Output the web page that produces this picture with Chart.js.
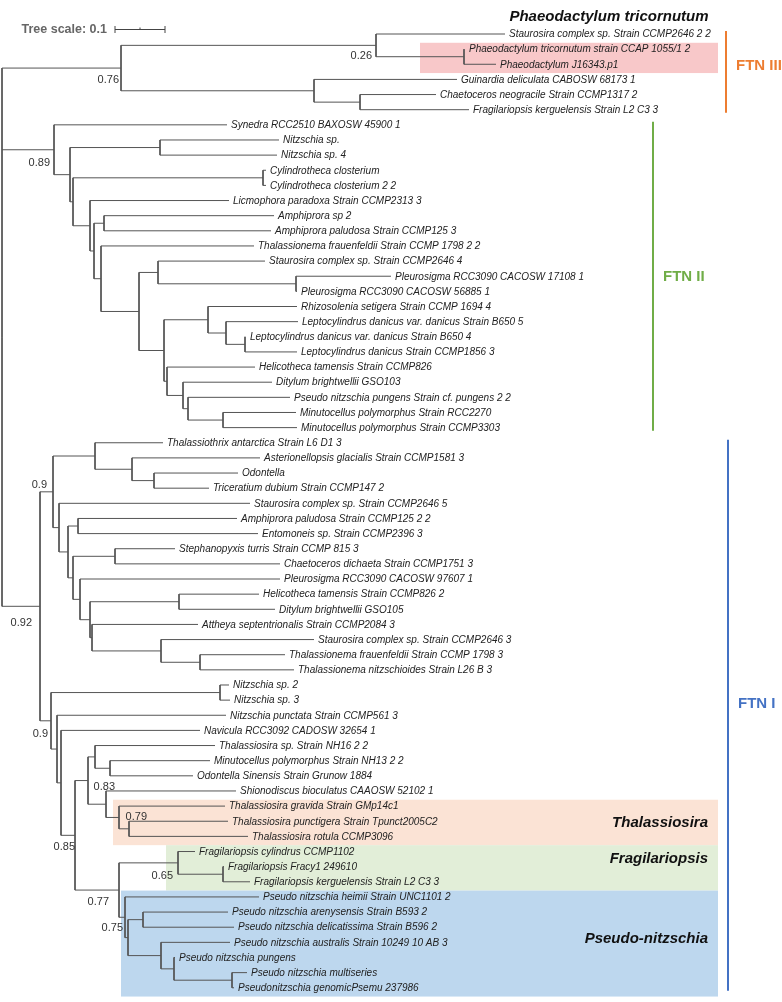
<!DOCTYPE html>
<html>
<head>
<meta charset="utf-8">
<script src="https://cdn.jsdelivr.net/npm/chart.js@4/dist/chart.umd.min.js"></script>
<style>
  html, body { margin: 0; padding: 0; background: #fff; }
</style>
</head>
<body>
<canvas id="tree" width="782" height="1002"></canvas>
<script>
// Leaves, top to bottom
const leafNames = [
  "Staurosira complex sp. Strain CCMP2646 2 2",
  "Phaeodactylum tricornutum strain CCAP 1055/1 2",
  "Phaeodactylum J16343.p1",
  "Guinardia deliculata CABOSW 68173 1",
  "Chaetoceros neogracile Strain CCMP1317 2",
  "Fragilariopsis kerguelensis Strain L2 C3 3",
  "Synedra RCC2510 BAXOSW 45900 1",
  "Nitzschia sp.",
  "Nitzschia sp. 4",
  "Cylindrotheca closterium",
  "Cylindrotheca closterium 2 2",
  "Licmophora paradoxa Strain CCMP2313 3",
  "Amphiprora sp 2",
  "Amphiprora paludosa Strain CCMP125 3",
  "Thalassionema frauenfeldii Strain CCMP 1798 2 2",
  "Staurosira complex sp. Strain CCMP2646 4",
  "Pleurosigma RCC3090 CACOSW 17108 1",
  "Pleurosigma RCC3090 CACOSW 56885 1",
  "Rhizosolenia setigera Strain CCMP 1694 4",
  "Leptocylindrus danicus var. danicus Strain B650 5",
  "Leptocylindrus danicus var. danicus Strain B650 4",
  "Leptocylindrus danicus Strain CCMP1856 3",
  "Helicotheca tamensis Strain CCMP826",
  "Ditylum brightwellii GSO103",
  "Pseudo nitzschia pungens Strain cf. pungens 2 2",
  "Minutocellus polymorphus Strain RCC2270",
  "Minutocellus polymorphus Strain CCMP3303",
  "Thalassiothrix antarctica Strain L6 D1 3",
  "Asterionellopsis glacialis Strain CCMP1581 3",
  "Odontella",
  "Triceratium dubium Strain CCMP147 2",
  "Staurosira complex sp. Strain CCMP2646 5",
  "Amphiprora paludosa Strain CCMP125 2 2",
  "Entomoneis sp. Strain CCMP2396 3",
  "Stephanopyxis turris Strain CCMP 815 3",
  "Chaetoceros dichaeta Strain CCMP1751 3",
  "Pleurosigma RCC3090 CACOSW 97607 1",
  "Helicotheca tamensis Strain CCMP826 2",
  "Ditylum brightwellii GSO105",
  "Attheya septentrionalis Strain CCMP2084 3",
  "Staurosira complex sp. Strain CCMP2646 3",
  "Thalassionema frauenfeldii Strain CCMP 1798 3",
  "Thalassionema nitzschioides Strain L26 B 3",
  "Nitzschia sp. 2",
  "Nitzschia sp. 3",
  "Nitzschia punctata Strain CCMP561 3",
  "Navicula RCC3092 CADOSW 32654 1",
  "Thalassiosira sp. Strain NH16 2 2",
  "Minutocellus polymorphus Strain NH13 2 2",
  "Odontella Sinensis Strain Grunow 1884",
  "Shionodiscus bioculatus CAAOSW 52102 1",
  "Thalassiosira gravida Strain GMp14c1",
  "Thalassiosira punctigera Strain Tpunct2005C2",
  "Thalassiosira rotula CCMP3096",
  "Fragilariopsis cylindrus CCMP1102",
  "Fragilariopsis Fracy1 249610",
  "Fragilariopsis kerguelensis Strain L2 C3 3",
  "Pseudo nitzschia heimii Strain UNC1101 2",
  "Pseudo nitzschia arenysensis Strain B593 2",
  "Pseudo nitzschia delicatissima Strain B596 2",
  "Pseudo nitzschia australis Strain 10249 10 AB 3",
  "Pseudo nitzschia pungens",
  "Pseudo nitzschia multiseries",
  "Pseudonitzschia genomicPsemu 237986"
];

// distance of each leaf tip from the root
const leafDepth = [
  1.006, 0.926, 0.988, 0.910, 0.868, 0.934,
  0.450, 0.554, 0.550, 0.528, 0.528, 0.454, 0.544, 0.538, 0.504, 0.526,
  0.778, 0.590, 0.590, 0.592, 0.488, 0.590, 0.506, 0.540, 0.576, 0.588, 0.590,
  0.322, 0.516, 0.472, 0.414, 0.496, 0.470, 0.512, 0.346, 0.556, 0.556,
  0.514, 0.546, 0.392, 0.624, 0.566, 0.584,
  0.454, 0.456, 0.448, 0.396, 0.426, 0.416, 0.382, 0.468, 0.446, 0.452, 0.492,
  0.386, 0.444, 0.496, 0.514, 0.452, 0.464, 0.456, 0.346, 0.490, 0.464
];

// internal nodes: id, distance from root, children (numbers = leaf index)
const nodeIds = [
  "root", "ftn3", "s026", "phaeo", "guin", "chaet",
  "A", "B", "nitz", "C", "cyl", "D", "E", "F", "G", "H", "I", "K",
  "J", "L", "N", "O", "M", "P", "Q", "R",
  "S", "T", "V", "X", "Y", "W", "Z", "AA", "BB", "CC", "DD", "EE", "FF", "GG", "HH", "II",
  "U", "JJ", "KK", "LL", "MM", "NN", "PP", "RR", "QQ", "SS", "TT",
  "OO", "UU", "WW", "VV", "XX", "YY", "ZZ", "AB", "AC"
];
const nodeDepth = [
  0.000, 0.238, 0.748, 0.924, 0.624, 0.716,
  0.104, 0.136, 0.316, 0.142, 0.522, 0.176, 0.184, 0.204, 0.198, 0.274, 0.312, 0.588,
  0.324, 0.412, 0.448, 0.486, 0.330, 0.362, 0.372, 0.442,
  0.076, 0.102, 0.186, 0.260, 0.304, 0.114, 0.132, 0.152, 0.142, 0.226, 0.156, 0.176, 0.354, 0.180, 0.318, 0.396,
  0.098, 0.436, 0.110, 0.118, 0.146, 0.172, 0.186, 0.216, 0.208, 0.234, 0.254,
  0.234, 0.352, 0.442, 0.246, 0.252, 0.282, 0.318, 0.344, 0.460
];
const nodeKids = [
  ["ftn3", "A", "S"], ["s026", "guin"], [0, "phaeo"], [1, 2], [3, "chaet"], [4, 5],
  [6, "B"], ["nitz", "C"], [7, 8], ["cyl", "D"], [9, 10], [11, "E"], ["F", "G"], [12, 13],
  [14, "H"], ["I", "J"], [15, "K"], [16, 17],
  ["L", "M"], [18, "N"], [19, "O"], [20, 21], [22, "P"], [23, "Q"], [24, "R"], [25, 26],
  ["T", "U"], ["V", "W"], [27, "X"], [28, "Y"], [29, 30], [31, "Z"], ["AA", "BB"], [32, 33],
  ["CC", "DD"], [34, 35], [36, "EE"], ["FF", "GG"], [37, 38], [39, "HH"], [40, "II"], [41, 42],
  ["JJ", "KK"], [43, 44], [45, "LL"], [46, "MM"], ["NN", "OO"], ["PP", "QQ"], [47, "RR"], [48, 49],
  [50, "SS"], [51, "TT"], [52, 53],
  ["UU", "VV"], [54, "WW"], [55, 56], [57, "XX"], ["YY", "ZZ"], [58, 59], [60, "AB"], [61, "AC"], [62, 63]
];

// support values
const supportNodes = ["ftn3", "s026", "A", "T", "S", "U", "NN", "SS", "MM", "UU", "OO", "VV"];
const supportValues = ["0.76", "0.26", "0.89", "0.9", "0.92", "0.9", "0.83", "0.79", "0.85", "0.65", "0.77", "0.75"];

// FTN clades (leaf ranges)
const cladeNames = ["FTN III", "FTN II", "FTN I"];
const cladeLeaves = [[0, 5], [6, 26], [27, 63]];

// highlighted groups (leaf ranges)
const groupNames = ["", "Thalassiosira", "Fragilariopsis", "Pseudo-nitzschia"];
const groupLeaves = [[1, 2], [51, 53], [54, 56], [57, 63]];

const title = "Phaeodactylum tricornutum";
const treeScale = 0.1;

// ---- layout / style (not data) ----
const branchColor = "#555";
const leafFont = "italic 10px 'Liberation Sans', Arial, sans-serif";
const supportFont = "11px 'Liberation Sans', Arial, sans-serif";
const supportOffset = [[-2, 12], [-4, 11], [-4, 13], [-6, -7], [-8, 17], [-3, 13],
                       [27, 6], [28, 0], [0, 12], [-5, 13], [-10, 12], [-2, 11]];
const cladeColors = ["#ed7d31", "#70ad47", "#4472c4"];
const cladeBarDepth = [1.448, 1.302, 1.452];
const cladeLabelRow = [2.1, 16.05, 44.25];
const groupColors = ["#f8c8c9", "#fbe3d5", "#e2eed8", "#bdd7ee"];
const groupStart = [0.836, 0.222, 0.328, 0.238];
const groupEnd = 1.432;
const groupLabelRow = [null, 52.1, 54.5, 59.8];

// build lookups
const depthOf = {};
const kidsOf = {};
const rowOf = {};
leafDepth.forEach((d, i) => { depthOf[i] = d; rowOf[i] = i; });
nodeIds.forEach((id, k) => { depthOf[id] = nodeDepth[k]; kidsOf[id] = nodeKids[k]; });

function row(id) {
  if (rowOf[id] === undefined) {
    const ks = kidsOf[id];
    rowOf[id] = (row(ks[0]) + row(ks[ks.length - 1])) / 2;
  }
  return rowOf[id];
}

// branch segments, separated by gaps
const branchPts = [];
const gap = { x: NaN, y: NaN };
nodeIds.forEach(id => {
  const ks = kidsOf[id];
  const x = depthOf[id];
  branchPts.push({ x: x, y: row(ks[0]) }, { x: x, y: row(ks[ks.length - 1]) }, gap);
  ks.forEach(c => {
    branchPts.push({ x: x, y: row(c) }, { x: depthOf[c], y: row(c) }, gap);
  });
});

const datasets = [{
  data: branchPts,
  showLine: true,
  borderColor: branchColor,
  borderWidth: 1,
  pointRadius: 0,
  spanGaps: false
}];

cladeNames.forEach((name, i) => {
  datasets.push({
    data: [{ x: cladeBarDepth[i], y: cladeLeaves[i][0] - 0.2 }, { x: cladeBarDepth[i], y: cladeLeaves[i][1] + 0.2 }],
    showLine: true,
    borderColor: cladeColors[i],
    borderWidth: 2,
    pointRadius: 0
  });
});

const treePlugin = {
  id: "treePlugin",
  beforeDatasetsDraw(chart) {
    const ctx = chart.ctx;
    const xs = chart.scales.x, ys = chart.scales.y;
    const step = ys.getPixelForValue(1) - ys.getPixelForValue(0);
    ctx.save();
    groupLeaves.forEach((g, i) => {
      const x0 = xs.getPixelForValue(groupStart[i]);
      const x1 = xs.getPixelForValue(groupEnd);
      const y0 = ys.getPixelForValue(g[0]) - step * 0.42;
      const y1 = ys.getPixelForValue(g[1]) + step * 0.58;
      ctx.fillStyle = groupColors[i];
      ctx.fillRect(x0, y0, x1 - x0, y1 - y0);
    });
    ctx.restore();
  },
  afterDatasetsDraw(chart) {
    const ctx = chart.ctx;
    const xs = chart.scales.x, ys = chart.scales.y;
    ctx.save();
    ctx.textBaseline = "middle";

    // leaf names
    ctx.font = leafFont;
    ctx.fillStyle = "#222";
    ctx.textAlign = "left";
    leafNames.forEach((name, i) => {
      ctx.fillText(name, xs.getPixelForValue(leafDepth[i]) + 4, ys.getPixelForValue(i) + 0.5);
    });

    // support values
    ctx.font = supportFont;
    ctx.fillStyle = "#333";
    ctx.textAlign = "right";
    supportNodes.forEach((id, k) => {
      const px = xs.getPixelForValue(depthOf[id]) + supportOffset[k][0];
      const py = ys.getPixelForValue(row(id)) + supportOffset[k][1];
      ctx.fillText(supportValues[k], px, py);
    });

    // group labels
    ctx.font = "bold italic 15px 'Liberation Sans', Arial, sans-serif";
    ctx.fillStyle = "#111";
    groupNames.forEach((name, i) => {
      if (!name) return;
      ctx.fillText(name, xs.getPixelForValue(groupEnd) - 10, ys.getPixelForValue(groupLabelRow[i]));
    });

    // clade labels
    ctx.font = "bold 15px 'Liberation Sans', Arial, sans-serif";
    ctx.textAlign = "left";
    cladeNames.forEach((name, i) => {
      ctx.fillStyle = cladeColors[i];
      ctx.fillText(name, xs.getPixelForValue(cladeBarDepth[i]) + 10, ys.getPixelForValue(cladeLabelRow[i]));
    });

    // title
    ctx.font = "bold italic 15px 'Liberation Sans', Arial, sans-serif";
    ctx.fillStyle = "#111";
    ctx.textAlign = "center";
    ctx.fillText(title, 609, 17);

    // tree scale
    const sx0 = xs.getPixelForValue(0.226), sx1 = xs.getPixelForValue(0.226 + treeScale);
    const sy = 29.5;
    ctx.font = "bold 12.5px 'Liberation Sans', Arial, sans-serif";
    ctx.fillStyle = "#666";
    ctx.textAlign = "right";
    ctx.fillText("Tree scale: " + treeScale, sx0 - 8, sy);
    ctx.strokeStyle = "#444";
    ctx.lineWidth = 1;
    ctx.beginPath();
    ctx.moveTo(sx0, sy); ctx.lineTo(sx1, sy);
    ctx.moveTo(sx0, sy - 3.5); ctx.lineTo(sx0, sy + 3.5);
    ctx.moveTo(sx1, sy - 3.5); ctx.lineTo(sx1, sy + 3.5);
    ctx.moveTo((sx0 + sx1) / 2, sy - 2); ctx.lineTo((sx0 + sx1) / 2, sy);
    ctx.stroke();
    ctx.restore();
  }
};

new Chart(document.getElementById("tree"), {
  type: "scatter",
  data: { datasets: datasets },
  options: {
    responsive: false,
    animation: false,
    devicePixelRatio: 1,
    layout: { padding: 0 },
    plugins: { legend: { display: false }, tooltip: { enabled: false } },
    scales: {
      x: { type: "linear", display: false, min: -0.004, max: 1.56 },
      y: { type: "linear", display: false, reverse: true, min: -2.246, max: 63.94 }
    }
  },
  plugins: [treePlugin]
});
</script>
</body>
</html>
